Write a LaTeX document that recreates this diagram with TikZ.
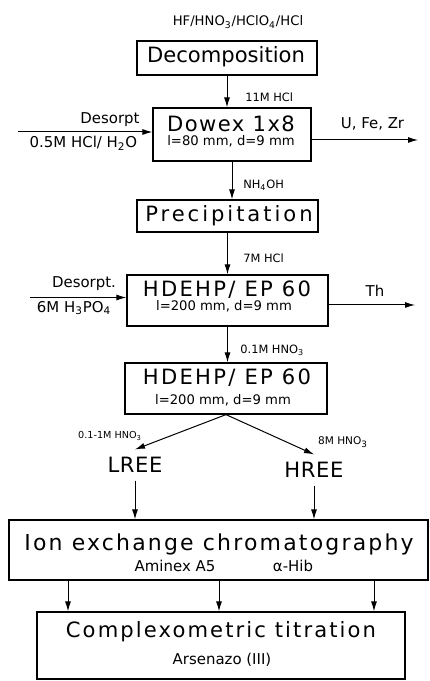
\documentclass[tikz,border=0pt]{standalone}
\usepackage{fontspec}
\setmainfont{DejaVu Sans}
\usetikzlibrary{arrows.meta}

\tikzset{
  boxnode/.style={draw, line width=0.025cm, inner sep=0pt},
  bigtext/.style={inner sep=0pt, font=\fontsize{12}{14}\selectfont\addfontfeatures{LetterSpace=#1}},
  bigtext/.default=0,
  subtext/.style={inner sep=0pt, font=\fontsize{7.5}{9}\selectfont},
  steplabel/.style={inner sep=0pt, anchor=west, font=\fontsize{6.5}{8}\selectfont},
  sidelabel/.style={inner sep=0pt, font=\fontsize{8.5}{10}\selectfont},
  flow/.style={line width=0.02cm, -{Latex[length=0.2cm,width=0.12cm]}}
}

\begin{document}
\begin{tikzpicture}
                        \useasboundingbox (0,0) rectangle (8.600000,13.620000);

                        % Acid mixture for decomposition
                        \node[sidelabel, font=\fontsize{7.5}{9}\selectfont] (acids) at (4.760000,13.180000) {HF/HNO\textsubscript{3}/HClO\textsubscript{4}/HCl};

                        % Box Decomposition
                        \node[boxnode, minimum width=3.600000cm, minimum height=0.680000cm] (dec) at (4.540000,12.460000) {};
                        \node[bigtext] (dectxt) at (4.520000,12.480000) {Decomposition};

                        % Box Dowex
                        \node[boxnode, minimum width=3.160000cm, minimum height=1.060000cm] (dowex) at (4.640000,10.930000) {};
                        \node[bigtext=7] (dowextxt) at (4.620000,11.140000) {Dowex 1x8};
                        \node[subtext] (dowexsub) at (4.620000,10.800000) {l=80 mm, d=9 mm};
                        \draw[flow] (dec.south) -- (dec.south |- dowex.north);
                        \node[steplabel] (hclA) at (4.900000,11.680000) {11M HCl};

                        % Desorption of Dowex and U, Fe, Zr out
                        \coordinate (desA) at (0.360000,10.980000);
                        \coordinate (outA) at (8.360000,10.820000);
                        \draw[flow] (desA) -- (desA -| dowex.west);
                        \draw[flow] (outA -| dowex.east) -- (outA);
                        \node[sidelabel] (desAtxt) at (2.200000,11.220000) {Desorpt};
                        \node[sidelabel] (desAacid) at (1.670000,10.760000) {0.5M HCl/ H\textsubscript{2}O};
                        \node[sidelabel] (outAtxt) at (7.450000,11.140000) {U, Fe, Zr};

                        % Box Precipitation
                        \node[boxnode, minimum width=3.620000cm, minimum height=0.640000cm] (precip) at (4.550000,9.300000) {};
                        \node[bigtext=14] (preciptxt) at (4.580000,9.300000) {Precipitation};
                        \draw[flow] (dowex.south) -- (dowex.south |- precip.north);
                        \node[steplabel] (nhoh) at (4.860000,9.920000) {NH\textsubscript{4}OH};

                        % First HDEHP column
                        \node[boxnode, minimum width=4.020000cm, minimum height=1.020000cm] (hdehpA) at (4.550000,7.610000) {};
                        \node[bigtext=11] (hdehpAtxt) at (4.540000,7.820000) {HDEHP/ EP 60};
                        \node[subtext] (hdehpAsub) at (4.480000,7.500000) {l=200 mm, d=9 mm};
                        \draw[flow] (precip.south) -- (precip.south |- hdehpA.north);
                        \node[steplabel] (hclB) at (4.860000,8.460000) {7M HCl};

                        % Desorption of HDEHP and Th out
                        \coordinate (desB) at (0.600000,7.670000);
                        \coordinate (outB) at (8.300000,7.520000);
                        \draw[flow] (desB) -- (desB -| hdehpA.west);
                        \draw[flow] (outB -| hdehpA.east) -- (outB);
                        \node[sidelabel] (desBtxt) at (1.680000,7.940000) {Desorpt.};
                        \node[sidelabel] (desBacid) at (1.480000,7.460000) {6M H\textsubscript{3}PO\textsubscript{4}};
                        \node[sidelabel] (outBtxt) at (7.500000,7.800000) {Th};

                        % Second HDEHP column
                        \node[boxnode, minimum width=4.040000cm, minimum height=1.020000cm] (hdehpB) at (4.520000,5.850000) {};
                        \node[bigtext=11] (hdehpBtxt) at (4.540000,6.060000) {HDEHP/ EP 60};
                        \node[subtext] (hdehpBsub) at (4.460000,5.620000) {l=200 mm, d=9 mm};
                        \draw[flow] (hdehpA.south) -- (hdehpA.south |- hdehpB.north);
                        \node[steplabel] (hnoA) at (4.800000,6.620000) {0.1M HNO\textsubscript{3}};

                        % Splitting into LREE and HREE
                        \node[bigtext=3, inner sep=0.150000cm] (lree) at (2.700000,4.320000) {LREE};
                        \node[bigtext=3, inner sep=0.150000cm] (hree) at (6.280000,4.220000) {HREE};
                        \draw[flow] (hdehpB.south) -- (lree.north);
                        \draw[flow] (hdehpB.south) -- (hree.north);
                        \node[steplabel, anchor=center, font=\fontsize{5.5}{7}\selectfont] (hnoB) at (2.200000,4.900000) {0.1-1M HNO\textsubscript{3}};
                        \node[steplabel, anchor=center, font=\fontsize{6}{7}\selectfont] (hnoC) at (6.860000,4.780000) {8M HNO\textsubscript{3}};

                        % Box Ion exchange chromatography
                        \node[boxnode, minimum width=8.380000cm, minimum height=1.200000cm] (ion) at (4.370000,2.620000) {};
                        \node[bigtext=10, font=\fontsize{12.5}{14}\selectfont\addfontfeatures{LetterSpace=10}] (iontxt) at (4.380000,2.740000) {Ion exchange chromatography};
                        \node[sidelabel] (aminex) at (3.500000,2.300000) {Aminex A5};
                        \node[sidelabel] (hib) at (5.860000,2.300000) {α-Hib};
                        \draw[flow] (lree.south) -- (lree.south |- ion.north);
                        \draw[flow] (hree.south) -- (hree.south |- ion.north);

                        % Box Complexometric titration
                        \node[boxnode, minimum width=7.360000cm, minimum height=1.340000cm] (comp) at (4.420000,0.710000) {};
                        \node[bigtext=10] (comptxt) at (4.420000,0.980000) {Complexometric titration};
                        \node[sidelabel] (arsenazo) at (4.440000,0.420000) {Arsenazo (III)};
                        \foreach \xpos in {1.360000,4.380000,7.480000}
                          \draw[flow] (\xpos,0 |- ion.south) -- (\xpos,0 |- comp.north);
\end{tikzpicture}
\end{document}
